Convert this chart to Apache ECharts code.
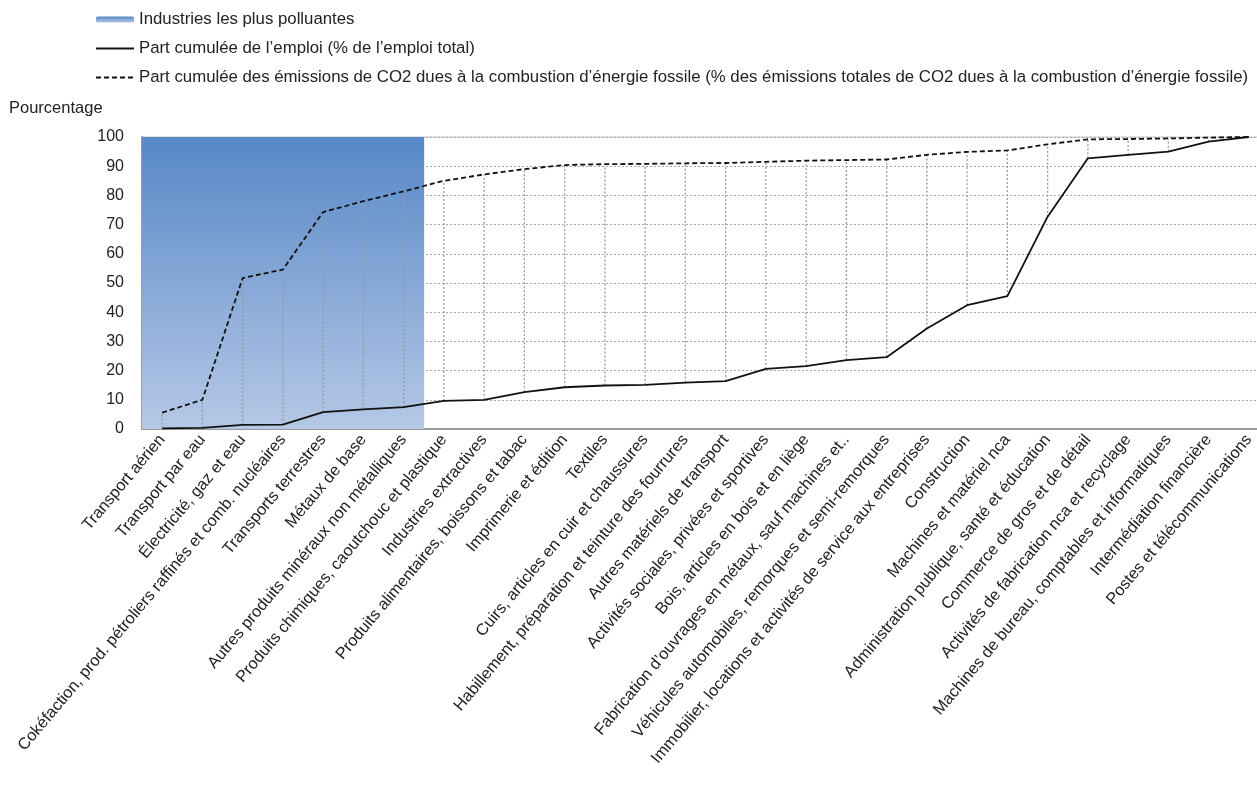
<!DOCTYPE html>
<html><head><meta charset="utf-8">
<script src="https://cdn.jsdelivr.net/npm/echarts@6/dist/echarts.min.js"></script>
<style>html,body{margin:0;padding:0;background:#fff}#c{width:1257px;height:787px}</style>
</head><body><div id="c"></div>
<script>
const categories = [
  'Transport aérien',
  'Transport par eau',
  'Électricité, gaz et eau',
  'Cokéfaction, prod. pétroliers raffinés et comb. nucléaires',
  'Transports terrestres',
  'Métaux de base',
  'Autres produits minéraux non métalliques',
  'Produits chimiques, caoutchouc et plastique',
  'Industries extractives',
  'Produits alimentaires, boissons et tabac',
  'Imprimerie et édition',
  'Textiles',
  'Cuirs, articles en cuir et chaussures',
  'Habillement, préparation et teinture des fourrures',
  'Autres matériels de transport',
  'Activités sociales, privées et sportives',
  'Bois, articles en bois et en liège',
  'Fabrication d’ouvrages en métaux, sauf machines et..',
  'Véhicules automobiles, remorques et semi-remorques',
  'Immobilier, locations et activités de service aux entreprises',
  'Construction',
  'Machines et matériel nca',
  'Administration publique, santé et éducation',
  'Commerce de gros et de détail',
  'Activités de fabrication nca et recyclage',
  'Machines de bureau, comptables et informatiques',
  'Intermédiation financière',
  'Postes et télécommunications'
];
const employmentShare = [0.2, 0.4, 1.4, 1.5, 5.8, 6.7, 7.5, 9.6, 10.0, 12.6, 14.3, 14.9, 15.1, 15.9,
  16.4, 20.6, 21.5, 23.6, 24.6, 34.4, 42.4, 45.5, 72.7, 92.7, 93.9, 95.0, 98.4, 100];
const co2Share = [5.6, 10.0, 51.7, 54.6, 74.3, 78.0, 81.4, 85.0, 87.2, 89.0, 90.4, 90.7, 90.8, 91.0,
  91.1, 91.5, 91.9, 92.1, 92.3, 93.9, 94.9, 95.4, 97.5, 99.2, 99.3, 99.5, 99.8, 100];
const pollutingIndustries = [100, 100, 100, 100, 100, 100, 100, null, null, null, null, null, null, null,
  null, null, null, null, null, null, null, null, null, null, null, null, null, null];
const yMin = 0, yMax = 100, yStep = 10;

const seriesNames = [
  'Industries les plus polluantes',
  'Part cumulée de l’emploi (% de l’emploi total)',
  'Part cumulée des émissions de CO2 dues à la combustion d’énergie fossile (% des émissions totales de CO2 dues à la combustion d’énergie fossile)'
];

const FONT = '"Liberation Sans", Arial, Helvetica, sans-serif';
const chart = echarts.init(document.getElementById('c'), null, {renderer: 'canvas'});
const dropData = categories.map((c, i) => [i, employmentShare[i], co2Share[i]]);
const hiddenSymbol = {color: 'transparent', borderColor: 'transparent', borderWidth: 0, opacity: 0};

chart.setOption({
  animation: false,
  textStyle: {fontFamily: FONT},
  title: {
    text: 'Pourcentage', left: 9, top: 100, padding: 0,
    textStyle: {fontSize: 16.5, fontWeight: 'normal', color: '#222', fontFamily: FONT}
  },
  legend: {
    data: [
      {name: seriesNames[0]},
      {name: seriesNames[1], itemStyle: hiddenSymbol},
      {name: seriesNames[2], itemStyle: hiddenSymbol}
    ],
    orient: 'vertical', left: 95, top: 10, padding: 0,
    itemWidth: 38, itemHeight: 6, itemGap: 10,
    textStyle: {fontSize: 16.8, color: '#222', lineHeight: 19, fontFamily: FONT},
    selectedMode: false
  },
  grid: {
    left: 142, top: 137, width: 1127, bottom: 358,
    outerBoundsMode: 'none', containLabel: false,
    show: true, borderColor: '#c4c4c4', borderWidth: 1, backgroundColor: 'transparent'
  },
  xAxis: {
    type: 'category', data: categories, boundaryGap: true,
    axisLine: {lineStyle: {color: '#9a9a9a', width: 2}},
    axisTick: {inside: true, length: 5, lineStyle: {color: '#9a9a9a', width: 1}},
    axisLabel: {rotate: 50, interval: 0, fontSize: 16.3, color: '#222', margin: 8, fontFamily: FONT,
      hideOverlap: false},
    splitLine: {show: false}
  },
  yAxis: {
    type: 'value', min: yMin, max: yMax, interval: yStep,
    axisLine: {show: true, lineStyle: {color: '#9a9a9a', width: 2}},
    axisTick: {show: false},
    axisLabel: {fontSize: 16, color: '#222', margin: 18, fontFamily: FONT},
    splitLine: {show: true, lineStyle: {color: '#a8a8a8', width: 1, type: [2, 2]}}
  },
  series: [
    {
      name: seriesNames[0], type: 'bar', data: pollutingIndustries,
      barWidth: '102%', silent: true, z: 1,
      itemStyle: {color: new echarts.graphic.LinearGradient(0, 0, 0, 1, [
        {offset: 0, color: '#5788c7'}, {offset: 1, color: '#b5c8e6'}
      ])}
    },
    {
      name: 'drop', type: 'custom', data: dropData, silent: true, z: 3,
      renderItem: function (params, api) {
        const a = api.coord([api.value(0), api.value(1)]);
        const b = api.coord([api.value(0), api.value(2)]);
        return {
          type: 'line',
          shape: {x1: a[0], y1: a[1], x2: b[0], y2: b[1]},
          style: {stroke: '#999', lineWidth: 1.3, lineDash: [2, 2]}
        };
      }
    },
    {
      name: seriesNames[1], type: 'line', data: employmentShare, symbol: 'none', z: 5,
      lineStyle: {color: '#111', width: 1.8}, itemStyle: {color: '#111'}
    },
    {
      name: seriesNames[2], type: 'line', data: co2Share, symbol: 'none', z: 5,
      lineStyle: {color: '#111', width: 1.8, type: [5, 3]}, itemStyle: {color: '#111'}
    }
  ]
});
</script></body></html>
